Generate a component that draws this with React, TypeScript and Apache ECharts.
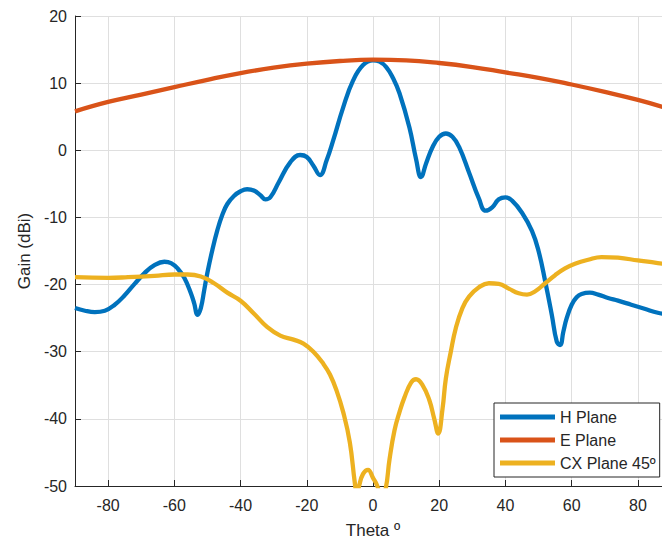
import React, { useEffect, useRef } from "react";
import * as echarts from "echarts";

const xTicks = [-80, -60, -40, -20, 0, 20, 40, 60, 80];

const hTheta = [-90, -87, -84, -81, -78, -75, -72, -69, -66, -63, -61, -59, -57, -55, -54, -53, -52, -51, -50, -48.5, -47, -45.5, -44, -42, -40, -38, -36, -34, -32.5, -31, -28.5, -25, -22, -20, -18, -16, -14, -12, -9, -6, -3, 0, 2, 4, 6, 8, 11, 13, 14.5, 16, 18, 20, 22, 24, 26, 29, 32, 34, 36, 38, 40, 42, 45, 48, 50, 52, 54, 55.5, 56.5, 57.5, 58.5, 60, 61.5, 63, 65.5, 68, 71, 74, 78, 82, 86, 90];
const hGain = [-23.5, -23.9, -24.1, -23.9, -23.0, -21.6, -19.9, -18.3, -17.1, -16.6, -16.8, -17.6, -19.0, -21.3, -22.8, -24.5, -23.5, -20.9, -18.2, -14.8, -11.9, -9.6, -8.0, -6.8, -6.1, -5.8, -6.0, -6.7, -7.3, -7.0, -4.8, -1.8, -0.7, -1.0, -2.3, -3.7, -1.5, 1.5, 6.4, 10.4, 12.7, 13.4, 13.2, 12.4, 10.8, 8.5, 3.4, -1.3, -4.0, -2.0, 0.5, 2.0, 2.5, 2.0, 0.5, -3.3, -7.2, -9.0, -8.5, -7.3, -7.0, -7.5, -9.3, -12.0, -15.0, -19.5, -24.5, -28.5, -29.0, -27.0, -25.0, -23.0, -21.9, -21.4, -21.2, -21.5, -22.0, -22.4, -23.0, -23.6, -24.2, -24.5];

const eTheta = [-90, -80, -70, -60, -50, -40, -30, -20, -10, 0, 10, 20, 30, 40, 50, 60, 70, 80, 90];
const eGain = [5.8, 7.2, 8.3, 9.4, 10.5, 11.5, 12.3, 12.9, 13.3, 13.5, 13.4, 13.0, 12.4, 11.6, 10.8, 9.8, 8.7, 7.5, 6.1];

const cxTheta = [-90, -80, -74, -66, -60, -56, -52, -48, -44, -40, -36, -32, -28, -24, -21, -18, -15, -13, -11, -9, -7, -5.5, -4.8, -4.2, -3, -1.5, 0, 1.3, 2.5, 3.8, 5, 6.5, 8, 9.5, 11.5, 13, 15, 17, 18.5, 19.7, 21, 22, 23.5, 25, 27, 29, 32, 35, 38, 41, 44, 46.5, 49, 52, 55, 58, 61, 65, 69, 74, 80, 86, 90];
const cxGain = [-18.9, -19.0, -18.9, -18.7, -18.5, -18.5, -18.8, -19.8, -21.2, -22.4, -24.3, -26.3, -27.6, -28.2, -28.8, -30.0, -31.8, -33.4, -35.8, -39.0, -43.5, -49.5, -51.5, -50.0, -48.2, -47.6, -48.8, -50.0, -52.0, -50.5, -46.0, -41.7, -39.0, -36.8, -34.6, -34.1, -35.0, -37.2, -40.0, -42.2, -38.5, -34.0, -30.0, -26.5, -23.5, -21.8, -20.4, -19.8, -19.9, -20.6, -21.3, -21.5, -21.0, -19.8, -18.6, -17.6, -16.9, -16.3, -15.9, -16.0, -16.4, -16.8, -17.0];

const seriesNames = ["H Plane", "E Plane", "CX Plane 45º"];
const seriesColors = ["#0072BD", "#D95319", "#EDB120"];

const zip = (xs: number[], ys: number[]) => xs.map((x, i) => [x, ys[i]]);

export default function App() {
  const ref = useRef<HTMLDivElement>(null);
  useEffect(() => {
    document.body.style.margin = "0";
    document.body.style.overflow = "hidden";
    if (!ref.current) return;
    const chart = echarts.init(ref.current, null, { renderer: "svg" });
    const font = "Arial, 'Liberation Sans', Helvetica, sans-serif";
    const axisColor = "#262626";
    const gridColor = "#dfdfdf";
    const datasets = [zip(hTheta, hGain), zip(eTheta, eGain), zip(cxTheta, cxGain)];
    chart.setOption({
      animation: false,
      backgroundColor: "#ffffff",
      textStyle: { fontFamily: font },
      grid: { left: 75, right: 0, top: 16, bottom: 58, containLabel: false },
      legend: {
        orient: "vertical",
        left: 494,
        top: 403,
        data: seriesNames,
        icon: "rect",
        itemWidth: 55,
        itemHeight: 5,
        itemGap: 5,
        padding: [5, 4, 5, 6],
        borderColor: axisColor,
        borderWidth: 1,
        borderRadius: 0,
        backgroundColor: "#ffffff",
        textStyle: { fontSize: 16, color: axisColor, fontFamily: font, lineHeight: 18 },
      },
      xAxis: {
        type: "value",
        min: -90,
        max: 90,
        name: "Theta º",
        nameLocation: "middle",
        nameGap: 36,
        nameTextStyle: { fontSize: 17, color: axisColor, fontFamily: font },
        axisLine: { show: true, onZero: false, lineStyle: { color: axisColor, width: 1 } },
        axisTick: { show: true, inside: true, length: 6, customValues: xTicks, lineStyle: { color: axisColor } },
        axisLabel: { customValues: xTicks, fontSize: 16, color: axisColor, margin: 11, fontFamily: font },
        splitLine: { show: true, lineStyle: { color: gridColor, width: 1 } },
      },
      yAxis: {
        type: "value",
        min: -50,
        max: 20,
        interval: 10,
        name: "Gain (dBi)",
        nameLocation: "middle",
        nameGap: 42,
        nameTextStyle: { fontSize: 17, color: axisColor, fontFamily: font },
        axisLine: { show: true, onZero: false, lineStyle: { color: axisColor, width: 1 } },
        axisTick: { show: true, inside: true, length: 6, lineStyle: { color: axisColor } },
        axisLabel: { fontSize: 16, color: axisColor, margin: 8, fontFamily: font },
        splitLine: { show: true, lineStyle: { color: gridColor, width: 1 } },
      },
      series: seriesNames.map((name, i) => ({
        name,
        type: "line",
        data: datasets[i],
        showSymbol: false,
        symbol: "none",
        smooth: 0.45,
        clip: true,
        color: seriesColors[i],
        lineStyle: { color: seriesColors[i], width: 4.3 },
      })),
    });
    return () => chart.dispose();
  }, []);
  return (
    <div style={{ width: 662, height: 544, overflow: "hidden" }}>
      <div ref={ref} style={{ width: 671, height: 544 }} />
    </div>
  );
}
